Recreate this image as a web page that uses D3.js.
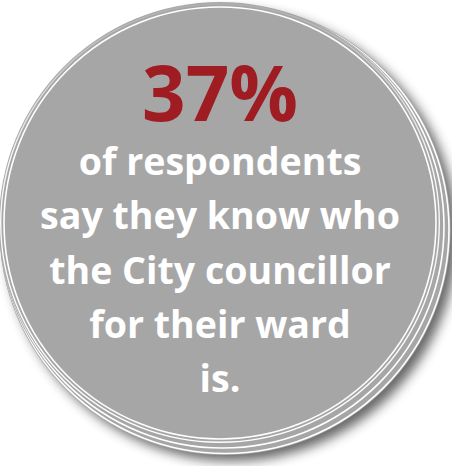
<!DOCTYPE html>
<html>
<head>
<meta charset="utf-8">
<script src="https://cdn.jsdelivr.net/npm/d3@7"></script>
<style>
  html, body { margin: 0; padding: 0; background: #fff; }
  svg { display: block; }
</style>
</head>
<body>
<svg id="chart" width="452" height="466"></svg>
<script>
var percent = 37;
var captionLines = ["of respondents", "say they know who", "the City councillor", "for their ward", "is."];

var width = 452, height = 466;
var cx = 220, cy = 223, r = 216;
var grey = "#a7a6a7";

var svg = d3.select("#chart");
var defs = svg.append("defs");

// blurred shadow to the lower right
defs.append("filter").attr("id", "blur")
  .attr("x", "-20%").attr("y", "-20%").attr("width", "140%").attr("height", "140%")
  .append("feGaussianBlur").attr("stdDeviation", 6);

// outer ring fades out toward the top
var fade = defs.append("linearGradient").attr("id", "fade")
  .attr("x1", 0).attr("y1", 0).attr("x2", 0).attr("y2", 1);
fade.append("stop").attr("offset", "0%").attr("stop-color", "#fff").attr("stop-opacity", 0.1);
fade.append("stop").attr("offset", "35%").attr("stop-color", "#fff").attr("stop-opacity", 0.9);
fade.append("stop").attr("offset", "100%").attr("stop-color", "#fff").attr("stop-opacity", 1);

svg.append("circle")
  .attr("cx", cx + 12).attr("cy", cy + 13).attr("r", r + 9)
  .attr("fill", "#5e5d5e").attr("opacity", 0.95)
  .attr("filter", "url(#blur)");

// stacked discs behind, back to front: [dx, dy, ring radius]
var discs = [[5, 6.5, 224], [2.5, 3.5, 221.5]];
discs.forEach(function(d) {
  var g = svg.append("g");
  g.append("circle")
    .attr("cx", cx + d[0]).attr("cy", cy + d[1]).attr("r", d[2] + 1.6)
    .attr("fill", grey);
  g.append("circle")
    .attr("cx", cx + d[0]).attr("cy", cy + d[1]).attr("r", d[2])
    .attr("fill", "none").attr("stroke", "#fff").attr("stroke-width", 1.6);
});

// front disc with double white ring
svg.append("circle").attr("cx", cx).attr("cy", cy).attr("r", r + 5)
  .attr("fill", grey);
svg.append("circle").attr("cx", cx).attr("cy", cy).attr("r", r + 3.3)
  .attr("fill", "none").attr("stroke", "url(#fade)").attr("stroke-width", 1.4);
svg.append("circle").attr("cx", cx).attr("cy", cy).attr("r", r)
  .attr("fill", grey).attr("stroke", "#fff").attr("stroke-width", 1.6);

// big number
var big = svg.append("text")
  .attr("x", cx).attr("y", 121)
  .attr("text-anchor", "middle")
  .attr("font-family", "'Open Sans', sans-serif")
  .attr("font-weight", 700)
  .attr("font-size", 82)
  .attr("fill", "#a01c23")
  .text(percent + "%");

// caption lines
var y = d3.scalePoint().domain(d3.range(captionLines.length)).range([175, 392]);

var caption = svg.append("g")
  .attr("font-family", "'Open Sans', sans-serif")
  .attr("font-weight", 700)
  .attr("font-size", 35)
  .attr("fill", "#fff")
  .attr("text-anchor", "middle");

caption.selectAll("text")
  .data(captionLines)
  .join("text")
  .attr("x", cx)
  .attr("y", function(d, i) { return y(i); })
  .text(function(d) { return d; });

// fit widest line to the picture's width
var widest = d3.max(caption.selectAll("text").nodes(), function(n) { return n.getComputedTextLength(); });
caption.attr("font-size", 35 * 360 / widest);
var bw = big.node().getComputedTextLength();
big.attr("font-size", 82 * 156 / bw);
</script>
</body>
</html>
